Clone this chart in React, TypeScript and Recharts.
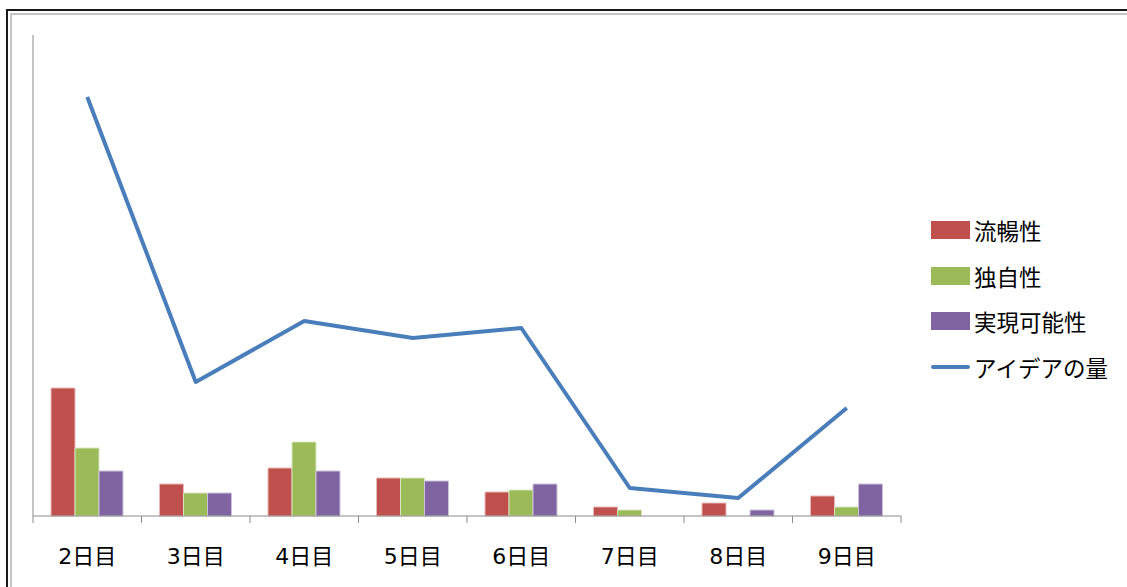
import { ComposedChart, Bar, Line, XAxis, YAxis, Legend } from "recharts"

const days = ["2日目", "3日目", "4日目", "5日目", "6日目", "7日目", "8日目", "9日目"]
const fluency = [128, 32, 48, 38, 24, 9, 13, 20]
const originality = [68, 23, 74, 38, 26, 6, 0, 9]
const feasibility = [45, 23, 45, 35, 32, 0, 6, 32]
const ideaCount = [419, 134, 195, 178, 188, 28, 18, 108]
const legendOrder = ["流暢性", "独自性", "実現可能性", "アイデアの量"]

const data = days.map((day, i) => ({
  day,
  fluency: fluency[i],
  originality: originality[i],
  feasibility: feasibility[i],
  ideas: ideaCount[i],
}))

const W = 1127
const H = 587
const MARGIN = { top: 35, right: 226, bottom: 0, left: 32 }
const X_AXIS_H = 71
const BAND = (W - 33 - MARGIN.right) / days.length
const AXIS = "#8c8c8c"
const FONT = '"DejaVu Sans", "Noto Sans CJK JP", sans-serif'

const DayTick = (props: any) => {
  const { x, y, payload, index, visibleTicksCount } = props
  const half = BAND / 2
  return (
    <g>
      <line x1={x - half} x2={x - half} y1={y} y2={y + 7} stroke={AXIS} />
      {index === visibleTicksCount - 1 && (
        <line x1={x + half} x2={x + half} y1={y} y2={y + 7} stroke={AXIS} />
      )}
      <text
        x={x}
        y={y + 40}
        textAnchor="middle"
        dominantBaseline="central"
        fontSize={22}
        fontFamily={FONT}
        fill="#000"
      >
        {payload.value}
      </text>
    </g>
  )
}

const LegendBox = ({ payload }: any) => {
  const items = [...(payload || [])].sort(
    (a: any, b: any) => legendOrder.indexOf(a.value) - legendOrder.indexOf(b.value)
  )
  return (
    <div style={{ fontFamily: FONT }}>
      {items.map((e: any) => (
        <div key={e.value} style={{ display: "flex", alignItems: "center", height: 45.7 }}>
          {e.type === "line" ? (
            <div style={{ width: 39, height: 4, borderRadius: 2, background: e.color }} />
          ) : (
            <div style={{ width: 39, height: 18, background: e.color }} />
          )}
          <span style={{ marginLeft: 4, fontSize: 22.5, color: "#000" }}>{e.value}</span>
        </div>
      ))}
    </div>
  )
}

export default function App() {
  return (
    <div style={{ position: "fixed", left: 0, top: 0, width: W, height: H, background: "#fff", overflow: "hidden" }}>
      <ComposedChart
        width={W}
        height={H}
        data={data}
        margin={MARGIN}
        barCategoryGap={18}
        barGap={0}
      >
        <XAxis
          dataKey="day"
          height={X_AXIS_H}
          stroke={AXIS}
          tickSize={0}
          tickMargin={0}
          tickLine={false}
          tick={<DayTick />}
          interval={0}
        />
        <YAxis width={1} domain={[0, 481]} tick={false} tickLine={false} stroke={AXIS} />
        <Legend
          layout="horizontal"
          verticalAlign="middle"
          align="center"
          content={<LegendBox />}
          wrapperStyle={{ left: 931, top: 207, width: 190 }}
        />
        <Bar dataKey="fluency" name="流暢性" fill="#C0504D" stroke="#E6B9B8" strokeWidth={1} isAnimationActive={false} />
        <Bar dataKey="originality" name="独自性" fill="#9BBB59" stroke="#D7E4BD" strokeWidth={1} isAnimationActive={false} />
        <Bar dataKey="feasibility" name="実現可能性" fill="#8064A2" stroke="#CCC1DA" strokeWidth={1} isAnimationActive={false} />
        <Line
          type="linear"
          dataKey="ideas"
          name="アイデアの量"
          stroke="#4A7EBB"
          strokeWidth={4}
          strokeLinejoin="round"
          dot={false}
          activeDot={false}
          isAnimationActive={false}
        />
      </ComposedChart>
      <div style={{ position: "absolute", left: 6, top: 9, right: 0, height: 2, background: "#1a1a1a" }} />
      <div style={{ position: "absolute", left: 6, top: 9, bottom: 0, width: 2, background: "#1a1a1a" }} />
      <div style={{ position: "absolute", left: 10, top: 13, right: 0, height: 2, background: "#c4c4c4" }} />
      <div style={{ position: "absolute", left: 10, top: 13, bottom: 0, width: 2, background: "#c4c4c4" }} />
    </div>
  )
}
